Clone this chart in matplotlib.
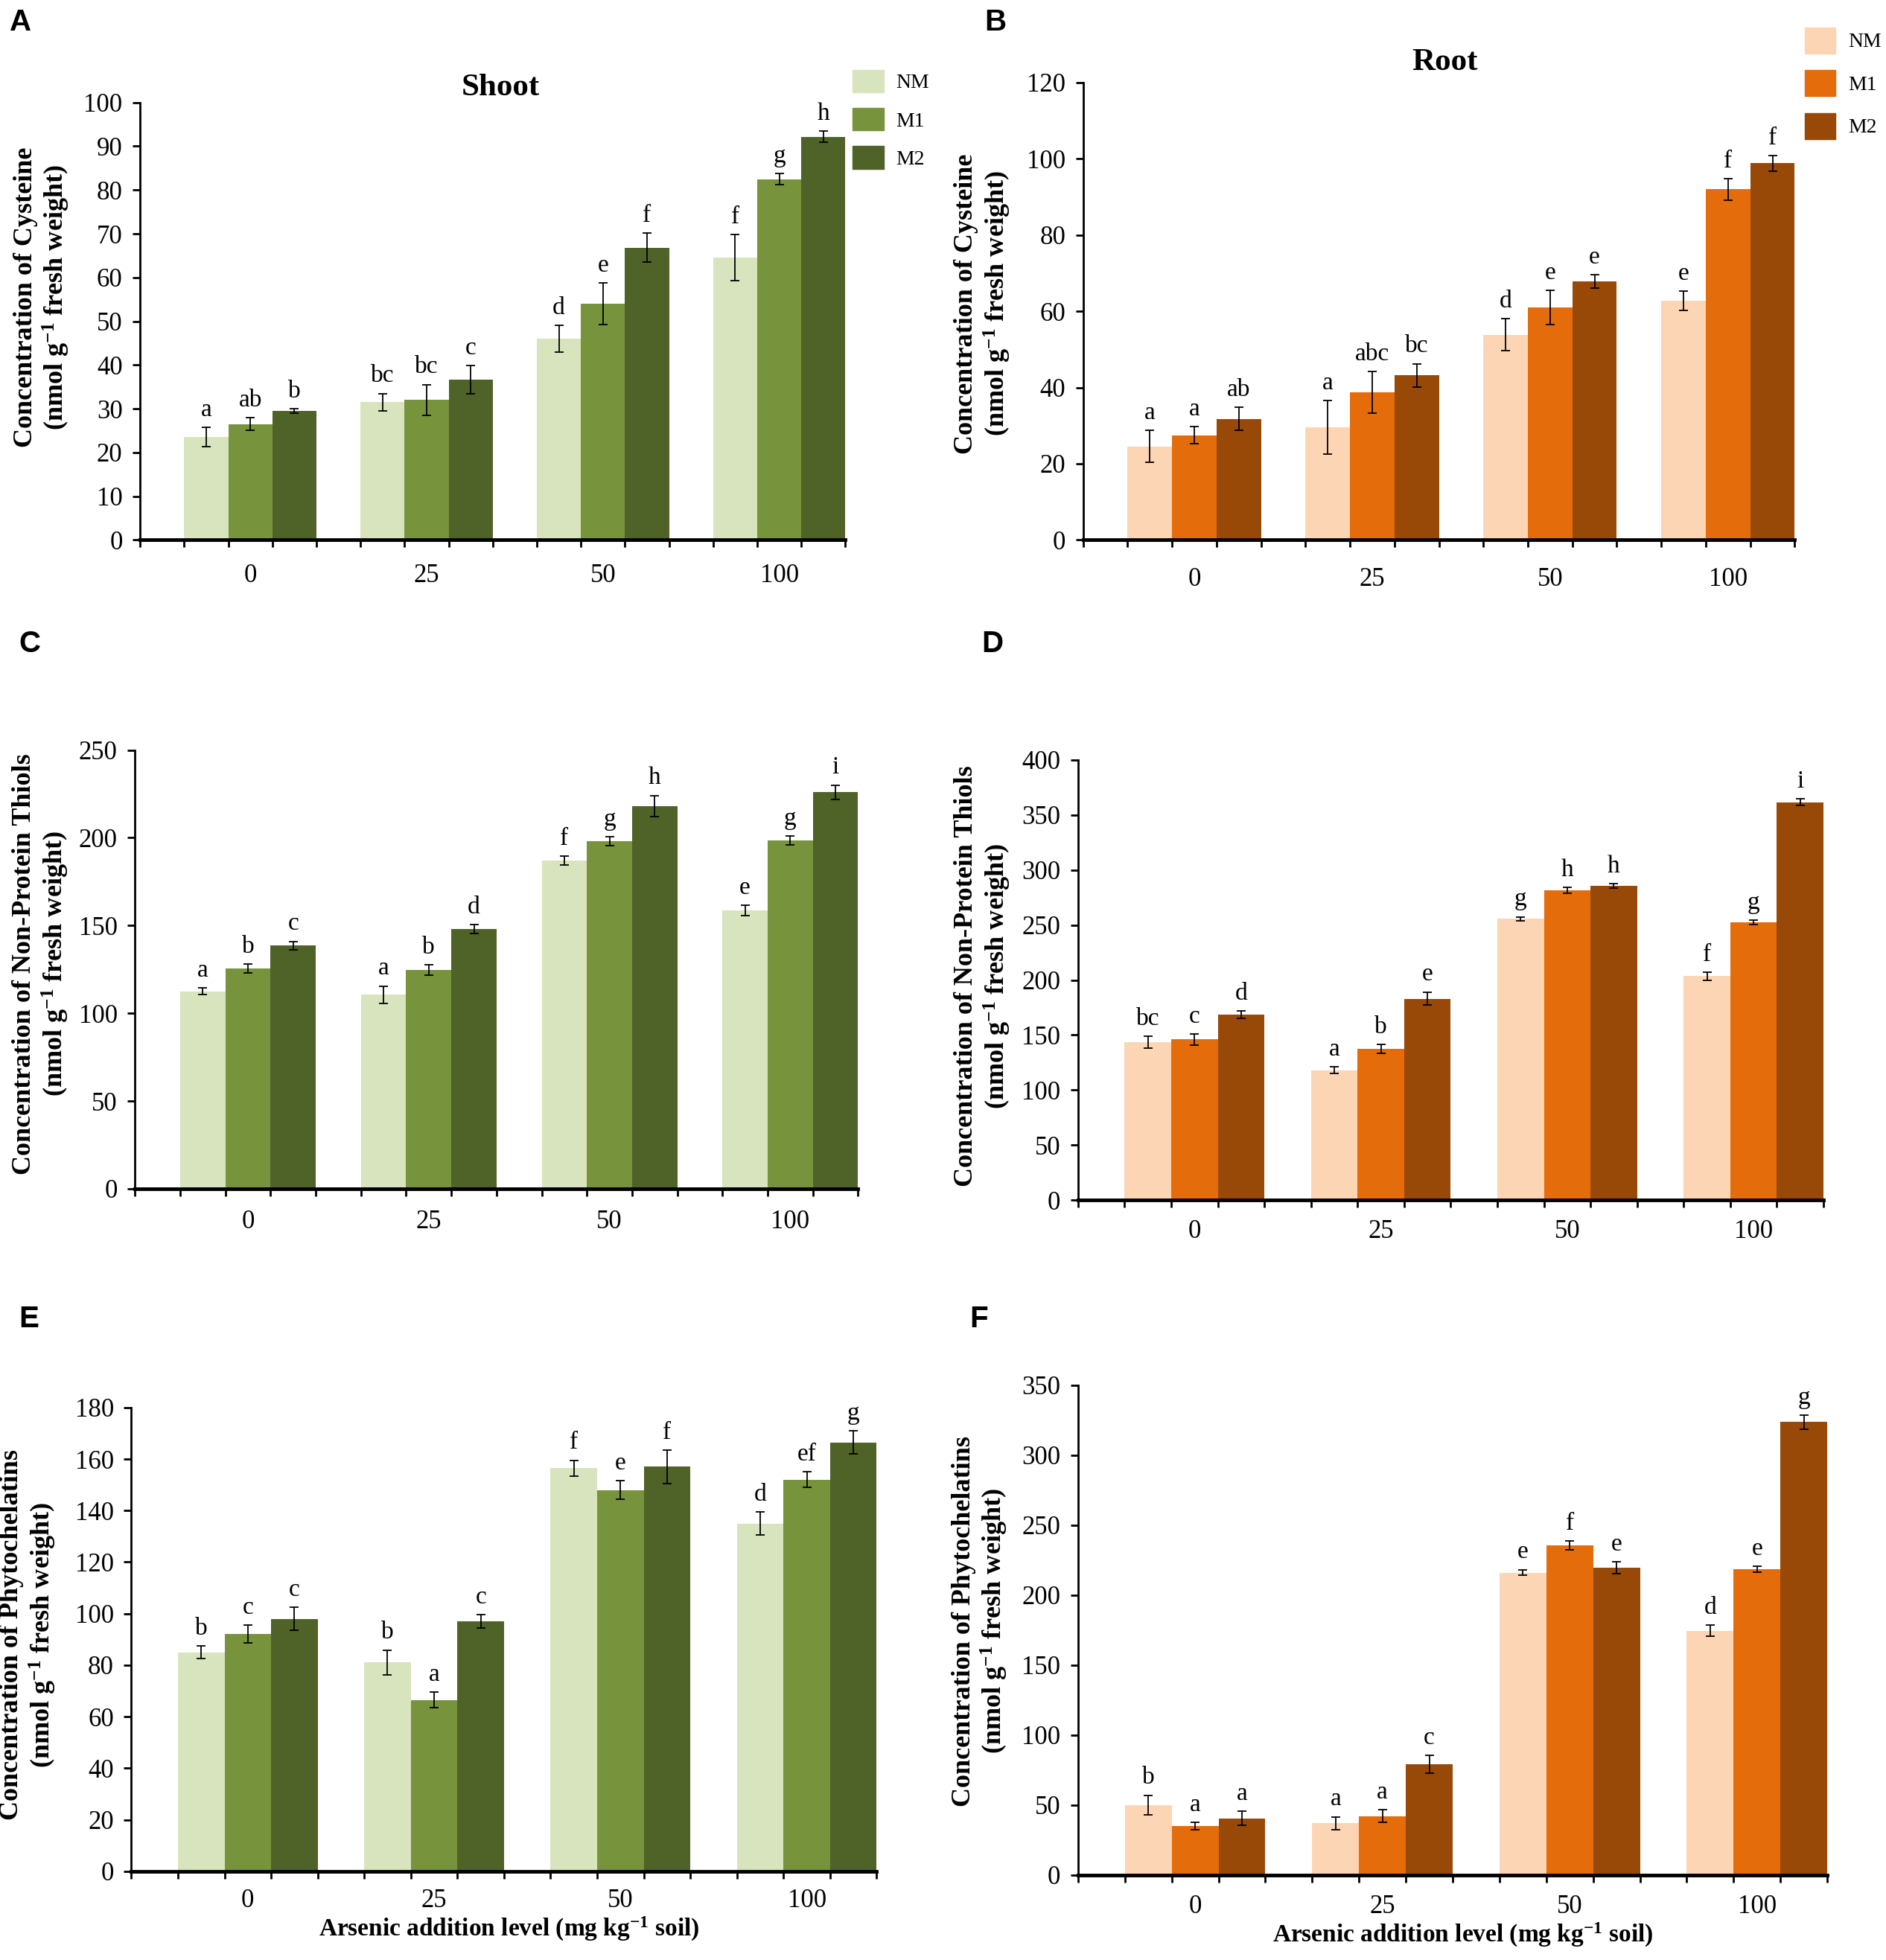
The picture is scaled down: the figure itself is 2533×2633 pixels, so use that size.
import numpy as np
import matplotlib
matplotlib.use('Agg')
import matplotlib.pyplot as plt
from matplotlib.ticker import FixedLocator

plt.rcParams['font.family'] = ['Liberation Serif', 'DejaVu Serif']
plt.rcParams['mathtext.fontset'] = 'custom'
plt.rcParams['mathtext.rm'] = 'Liberation Serif'
plt.rcParams['mathtext.bf'] = 'Liberation Serif:bold'
plt.rcParams['mathtext.default'] = 'bf'

levels = ['0', '25', '50', '100']
groups = ['NM', 'M1', 'M2']

green = ['#D7E4BD', '#77933C', '#4F6228']
orange = ['#FCD5B5', '#E46C0A', '#984807']

# A  shoot cysteine
cys_shoot = [[23.5, 31.5, 46.0, 64.5], [26.5, 32.0, 54.0, 82.5], [29.5, 36.7, 66.8, 92.2]]
cys_shoot_err = [[2.2, 2.0, 3.0, 5.3], [1.4, 3.5, 4.7, 1.3], [0.5, 3.2, 3.3, 1.3]]
cys_shoot_let = [['a', 'bc', 'd', 'f'], ['ab', 'bc', 'e', 'g'], ['b', 'c', 'f', 'h']]

# B  root cysteine
cys_root = [[24.5, 29.5, 53.8, 62.7], [27.5, 38.7, 61.0, 92.0], [31.8, 43.2, 67.8, 98.8]]
cys_root_err = [[4.2, 7.0, 4.2, 2.5], [2.2, 5.5, 4.5, 2.8], [3.0, 3.0, 1.8, 2.0]]
cys_root_let = [['a', 'a', 'd', 'e'], ['a', 'abc', 'e', 'f'], ['ab', 'bc', 'e', 'f']]

# C  shoot non-protein thiols
npt_shoot = [[112.5, 110.5, 187.0, 158.5], [125.5, 124.5, 198.0, 198.5], [138.5, 148.0, 218.0, 226.0]]
npt_shoot_err = [[1.8, 5.0, 2.5, 3.0], [2.5, 3.0, 2.5, 2.5], [2.5, 2.5, 6.0, 4.0]]
npt_shoot_let = [['a', 'a', 'f', 'e'], ['b', 'b', 'g', 'g'], ['c', 'd', 'h', 'i']]

# D  root non-protein thiols
npt_root = [[143.5, 118.0, 255.5, 203.5], [146.0, 137.5, 281.5, 252.5], [168.5, 183.0, 285.5, 361.5]]
npt_root_err = [[5.5, 3.0, 2.0, 3.5], [5.0, 4.0, 2.5, 2.0], [3.5, 6.0, 2.0, 3.0]]
npt_root_let = [['bc', 'a', 'g', 'f'], ['c', 'b', 'h', 'g'], ['d', 'e', 'h', 'i']]

# E  shoot phytochelatins
pc_shoot = [[85.0, 81.0, 156.5, 135.0], [92.0, 66.5, 148.0, 152.0], [98.0, 97.0, 157.0, 166.5]]
pc_shoot_err = [[2.5, 4.8, 3.0, 4.5], [3.5, 3.0, 3.5, 3.0], [4.5, 2.5, 6.5, 4.5]]
pc_shoot_let = [['b', 'b', 'f', 'd'], ['c', 'a', 'e', 'ef'], ['c', 'c', 'f', 'g']]

# F  root phytochelatins
pc_root = [[50.0, 37.0, 216.0, 174.5], [35.0, 42.0, 235.5, 218.5], [40.5, 79.0, 219.5, 323.5]]
pc_root_err = [[7.0, 4.5, 2.0, 4.0], [2.5, 4.5, 3.0, 2.0], [5.0, 6.5, 4.0, 5.0]]
pc_root_let = [['b', 'a', 'e', 'd'], ['a', 'a', 'f', 'e'], ['a', 'c', 'e', 'g']]

W, H = 1508.0, 1568.0   # reference layout units


def rect(l, r, y0, ytop):
    return [l / W, 1 - y0 / H, (r - l) / W, (y0 - ytop) / H]


fig = plt.figure(figsize=(25.33, 26.33), dpi=100)

cys_lab = 'Concentration of Cysteine\n(nmol g$^{-1}$ fresh weight)'
npt_lab = 'Concentration of Non-Protein Thiols\n(nmol g$^{-1}$ fresh weight)'
pc_lab = 'Concentration of Phytochelatins\n(nmol g$^{-1}$ fresh weight)'

panels = [
    ('A', rect(112, 676, 432, 82), cys_shoot, cys_shoot_err, cys_shoot_let, green, 100, 10, cys_lab, (34, 238), (8, 18), 23),
    ('B', rect(866, 1435, 432, 66), cys_root, cys_root_err, cys_root_let, orange, 120, 20, cys_lab, (786, 243), (787, 18), 26),
    ('C', rect(108, 686, 951, 600), npt_shoot, npt_shoot_err, npt_shoot_let, green, 250, 50, npt_lab, (33, 771), (15, 515), 20),
    ('D', rect(862, 1458, 960, 608), npt_root, npt_root_err, npt_root_let, orange, 400, 50, npt_lab, (786, 781), (785, 515), 19),
    ('E', rect(105, 701, 1497, 1126), pc_shoot, pc_shoot_err, pc_shoot_let, green, 180, 20, pc_lab, (23, 1308), (15, 1055), 17),
    ('F', rect(862, 1461, 1500, 1108), pc_root, pc_root_err, pc_root_let, orange, 350, 50, pc_lab, (784, 1297), (775, 1055), 19),
]

w = 0.25
x = np.arange(len(levels))
for name, r, vals, errs, lets, cols, ymax, ystep, ylab, ylpos, lpos, xpad in panels:
    ax = fig.add_axes(r)
    for i in range(3):
        pos = x + (i - 1) * w
        ax.bar(pos, vals[i], w, color=cols[i], edgecolor='none', label=groups[i], zorder=2)
        ax.errorbar(pos, vals[i], yerr=errs[i], fmt='none', ecolor='black', elinewidth=1.3,
                    capsize=4, capthick=1.3, zorder=3)
        for px, v, e, t in zip(pos, vals[i], errs[i], lets[i]):
            ax.annotate(t, (px, v + e), xytext=(0, 6), textcoords='offset points',
                        ha='center', va='bottom', fontsize=24)
    ax.set_xlim(-0.625, 3.375)
    ax.set_ylim(0, ymax)
    ax.set_yticks(np.arange(0, ymax + 1, ystep))
    ax.set_xticks(x)
    ax.set_xticklabels(levels)
    ax.xaxis.set_minor_locator(FixedLocator(-0.625 + 0.25 * np.arange(17)))
    ax.tick_params(axis='x', which='major', length=0, pad=xpad, labelsize=25)
    ax.tick_params(axis='x', which='minor', length=7, width=2, direction='out')
    ax.tick_params(axis='y', length=7, width=2, direction='out', labelsize=25, pad=10)
    ax.spines['top'].set_visible(False)
    ax.spines['right'].set_visible(False)
    ax.spines['left'].set_linewidth(2)
    ax.spines['bottom'].set_linewidth(3.5)
    ax.spines['bottom'].set_zorder(4)
    fig.text(ylpos[0] / W, 1 - ylpos[1] / H, ylab, rotation=90, ha='center', va='center',
             multialignment='center', fontsize=26, fontweight='bold', linespacing=1.15)
    fig.text(lpos[0] / W, 1 - lpos[1] / H, name, ha='left', va='center', fontsize=29,
             fontweight='bold', family=['Liberation Sans', 'DejaVu Sans'])

fig.text(400 / W, 1 - 70 / H, 'Shoot', ha='center', va='center', fontsize=31, fontweight='bold')
fig.text(1155 / W, 1 - 50 / H, 'Root', ha='center', va='center', fontsize=31, fontweight='bold')

xlab = 'Arsenic addition level (mg kg$^{-1}$ soil)'
fig.text(407 / W, 1 - 1543 / H, xlab, ha='center', va='center', fontsize=24, fontweight='bold')
fig.text(1170 / W, 1 - 1548 / H, xlab, ha='center', va='center', fontsize=24, fontweight='bold')

# legends as colour swatches
fig.legend(handles=[plt.Rectangle((0, 0), 1, 1, color=c) for c in green],
           labels=groups, loc='upper left', bbox_to_anchor=(667 / W, 1 - 41 / H), frameon=False,
           fontsize=20, handlelength=1.5, handleheight=1.3, labelspacing=0.75, handletextpad=0.6)
fig.legend(handles=[plt.Rectangle((0, 0), 1, 1, color=c) for c in orange],
           labels=groups, loc='upper left', bbox_to_anchor=(1428 / W, 1 - 7 / H), frameon=False,
           fontsize=20, handlelength=1.5, handleheight=1.55, labelspacing=0.82, handletextpad=0.6)

fig.savefig('out.png', dpi=100)
